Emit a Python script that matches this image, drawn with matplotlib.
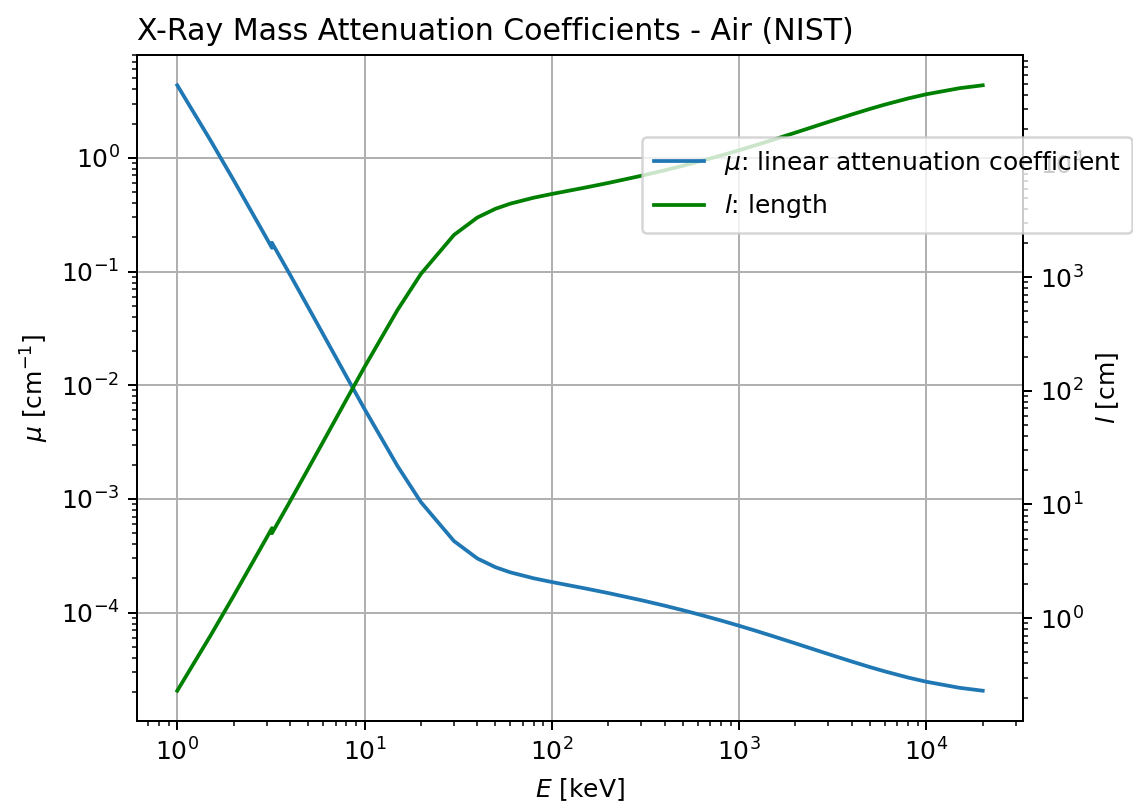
import numpy as np
import matplotlib
matplotlib.use("Agg")
import matplotlib.pyplot as plt

# NIST XCOM: dry air (near sea level), mass attenuation coefficient mu/rho [cm^2/g]
energy_kev = [1.0, 1.5, 2.0, 3.0, 3.2029, 3.2029, 4.0, 5.0, 6.0, 8.0, 10.0,
              15.0, 20.0, 30.0, 40.0, 50.0, 60.0, 80.0, 100.0, 150.0, 200.0,
              300.0, 400.0, 500.0, 600.0, 800.0, 1000.0, 1250.0, 1500.0,
              2000.0, 3000.0, 4000.0, 5000.0, 6000.0, 8000.0, 10000.0,
              15000.0, 20000.0]
mu_rho = [3606.0, 1191.0, 527.9, 162.5, 134.0, 148.5, 77.88, 40.27, 23.41,
          9.921, 5.120, 1.614, 0.7779, 0.3538, 0.2485, 0.2080, 0.1875,
          0.1662, 0.1541, 0.1356, 0.1233, 0.1067, 0.09549, 0.08712, 0.08055,
          0.07074, 0.06358, 0.05687, 0.05175, 0.04447, 0.03581, 0.03079,
          0.02751, 0.02522, 0.02225, 0.02045, 0.01810, 0.01705]
rho_air = 1.205e-3  # g/cm^3

E = np.array(energy_kev)
mu = np.array(mu_rho) * rho_air   # linear attenuation coefficient [1/cm]
length = 1.0 / mu                 # attenuation length [cm]

dpi = 180
fig = plt.figure(figsize=(1133 / dpi, 808 / dpi), dpi=dpi)
ax = fig.add_axes([137 / 1133, 1 - 721 / 808, 886 / 1133, 666 / 808])

ax.plot(E, mu, color="C0", label=r"$\mu$: linear attenuation coefficient")
ax.set_xscale("log")
ax.set_yscale("log")
ax.set_xlabel(r"$E$ [keV]")
ax.set_ylabel(r"$\mu$ [cm$^{-1}$]")
ax.set_title("X-Ray Mass Attenuation Coefficients - Air (NIST)", loc="left")
ax.grid(True, which="major")

ax2 = ax.twinx()
ax2.plot(E, length, color="green", label=r"$l$: length")
ax2.set_yscale("log")
ax2.set_ylabel(r"$l$ [cm]")

h1, l1 = ax.get_legend_handles_labels()
h2, l2 = ax2.get_legend_handles_labels()
fig.legend(h1 + h2, l1 + l2, loc="upper right", borderaxespad=0,
           labelspacing=0.62, borderpad=0.48,
           bbox_to_anchor=(1132 / 1133, 1 - 137 / 808))

fig.savefig("out.png", dpi=dpi)
